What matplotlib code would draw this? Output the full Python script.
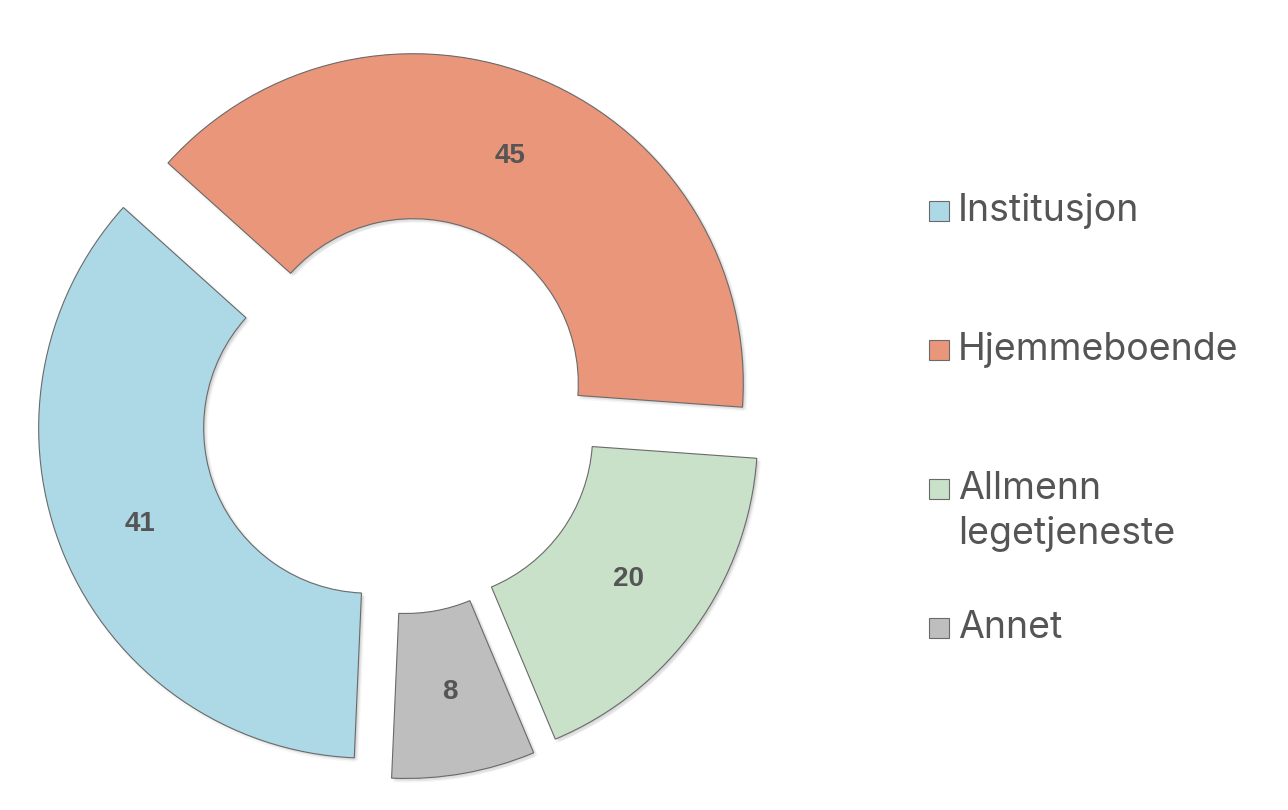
import textwrap
import matplotlib
matplotlib.use("Agg")
import matplotlib.pyplot as plt
import matplotlib.patheffects as pe
from matplotlib.patches import Rectangle

# ---- data ----
categories = ["Institusjon", "Hjemmeboende", "Allmenn legetjeneste", "Annet"]
values = [41, 45, 20, 8]
colors = ["#ADD8E6", "#E9967A", "#C8E1C8", "#BEBEBE"]

W, H = 1288, 810
fig = plt.figure(figsize=(W / 100, H / 100), dpi=100)

# pie geometry (pixels)
cx, cy = 400, 415          # centre, from top
R = 330                    # outer radius
lim = 1.2
side = 2 * lim * R
ax = fig.add_axes([(cx - side / 2) / W, (H - cy - side / 2) / H, side / W, side / H])

total = sum(values)

shadow = []
for dx, dy in [(1, -1), (2, -2), (3, -2), (1, -3), (0, 0), (2, 0)]:
    shadow.append(pe.SimplePatchShadow(offset=(dx, dy), shadow_rgbFace="black", alpha=0.035))
shadow.append(pe.Normal())

wedges, texts, autotexts = ax.pie(
    values,
    colors=colors,
    startangle=-92.5,
    counterclock=False,
    radius=1.0,
    explode=[0.103] * len(values),
    autopct=lambda p: f"{round(p * total / 100)}",
    pctdistance=0.75,
    wedgeprops=dict(width=0.5, edgecolor="#6a6a6a", linewidth=0.8),
    textprops=dict(color="#555555", fontsize=20, fontweight="bold",
                   family=["Liberation Sans", "DejaVu Sans"]),
)
for w in wedges:
    w.set_path_effects(shadow)
ax.set_xlim(-lim, lim)
ax.set_ylim(-lim, lim)
ax.set_aspect("equal")
ax.axis("off")

# ---- legend ----
base_lines = [221, 360, 499, 638]
line_gap = 45
for lab, col, yb in zip(categories, colors, base_lines):
    fig.add_artist(Rectangle((928.5 / W, (H - yb) / H), 20.5 / W, 20 / H,
                             transform=fig.transFigure, facecolor=col,
                             edgecolor="#6a6a6a", linewidth=0.8))
    for i, line in enumerate(textwrap.wrap(lab, 14)):
        fig.text(958 / W, (H - yb - i * line_gap) / H, line,
                 ha="left", va="baseline", fontsize=27, color="#555555",
                 family=["Inter", "DejaVu Sans"])

fig.savefig("out.png", dpi=100, facecolor="white")
